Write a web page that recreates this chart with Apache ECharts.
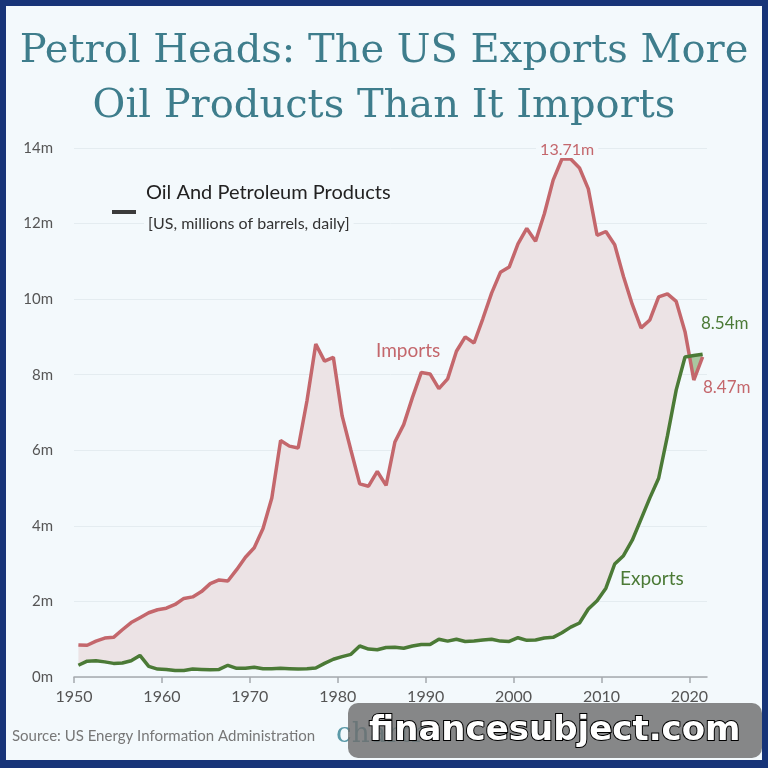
<!DOCTYPE html>
<html>
<head>
<meta charset="utf-8">
<script src="https://cdn.jsdelivr.net/npm/echarts@6/dist/echarts.min.js"></script>
<style>
html,body{margin:0;padding:0;background:#173478;}
#chart{position:absolute;left:0;top:0;width:768px;height:768px;}
</style>
</head>
<body>
<div id="chart"></div>
<script>
const years = [1950,1951,1952,1953,1954,1955,1956,1957,1958,1959,1960,1961,1962,1963,1964,1965,1966,1967,1968,1969,1970,1971,1972,1973,1974,1975,1976,1977,1978,1979,1980,1981,1982,1983,1984,1985,1986,1987,1988,1989,1990,1991,1992,1993,1994,1995,1996,1997,1998,1999,2000,2001,2002,2003,2004,2005,2006,2007,2008,2009,2010,2011,2012,2013,2014,2015,2016,2017,2018,2019,2020,2021];
const imports = [0.85,0.84,0.95,1.03,1.05,1.25,1.44,1.57,1.70,1.78,1.82,1.92,2.08,2.12,2.26,2.47,2.57,2.54,2.84,3.17,3.42,3.93,4.74,6.26,6.11,6.06,7.31,8.81,8.36,8.46,6.91,6.00,5.11,5.05,5.44,5.07,6.22,6.68,7.40,8.06,8.02,7.63,7.89,8.62,9.00,8.84,9.48,10.16,10.71,10.85,11.46,11.87,11.53,12.26,13.15,13.71,13.71,13.47,12.92,11.69,11.79,11.44,10.60,9.86,9.24,9.45,10.06,10.14,9.94,9.14,7.86,8.47];
const exports = [0.31,0.42,0.43,0.40,0.36,0.37,0.43,0.57,0.28,0.21,0.20,0.17,0.17,0.21,0.20,0.19,0.20,0.31,0.23,0.23,0.26,0.22,0.22,0.23,0.22,0.21,0.22,0.24,0.36,0.47,0.54,0.60,0.82,0.74,0.72,0.78,0.79,0.76,0.82,0.86,0.86,1.00,0.95,1.00,0.94,0.95,0.98,1.00,0.95,0.94,1.04,0.97,0.98,1.03,1.05,1.17,1.32,1.43,1.80,2.02,2.35,2.99,3.21,3.62,4.18,4.74,5.26,6.38,7.60,8.47,8.51,8.54];
const xTicks = [1950,1960,1970,1980,1990,2000,2010,2020];
const yTicks = [0,2,4,6,8,10,12,14];

const MID = 0.5; // annual values are plotted at mid-year
const impData = years.map((y,i)=>[y+MID, imports[i]]);
const expData = years.map((y,i)=>[y+MID, exports[i]]);

const RED = '#c4676c';
const GREEN = '#4b7a36';
const PINKFILL = '#ece3e5';
const GREENFILL = '#a9c7a0';
const BG = '#f3f9fc';
const LABELFONT = 'Lato, "Open Sans", sans-serif';

const chart = echarts.init(document.getElementById('chart'), null, {renderer:'canvas'});

// Fill the band between the two lines, pink where imports exceed exports, green otherwise.
function bandRender(params, api){
  const P = years.map((y,i)=>({a: api.coord([y+MID, imports[i]]), b: api.coord([y+MID, exports[i]]), d: imports[i]-exports[i]}));
  const runs = [];
  let cur = null;
  function start(pos, a, b){ cur = {pos, top:[a], bot:[b]}; runs.push(cur); }
  start(P[0].d >= 0, P[0].a, P[0].b);
  for (let i=0;i<P.length-1;i++){
    const p=P[i], q=P[i+1];
    if ((p.d>=0) === (q.d>=0)){
      cur.top.push(q.a); cur.bot.push(q.b);
    } else {
      const t = p.d/(p.d-q.d);
      const c = [p.a[0]+(q.a[0]-p.a[0])*t, p.a[1]+(q.a[1]-p.a[1])*t];
      cur.top.push(c); cur.bot.push(c);
      start(q.d >= 0, c, c);
      cur.top.push(q.a); cur.bot.push(q.b);
    }
  }
  const children = runs.map(r => ({
    type:'polygon',
    shape:{points: r.top.concat(r.bot.slice().reverse())},
    style:{fill: r.pos ? PINKFILL : GREENFILL}
  }));
  return {type:'group', children};
}

const option = {
  backgroundColor: 'transparent',
  animation: false,
  grid: {left:74, right:61, top:148, bottom:91, containLabel:false},
  xAxis: {
    type:'value', min:1950, max:2022,
    axisLine:{show:true, lineStyle:{color:'#a5a9ad', width:1.5}},
    axisTick:{show:true, customValues:xTicks, length:6, lineStyle:{color:'#a5a9ad', width:1.5}},
    axisLabel:{customValues:xTicks, color:'#555', fontSize:16, fontFamily:LABELFONT, margin:12, formatter: v => String(v)},
    splitLine:{show:false}
  },
  yAxis: {
    type:'value', min:0, max:14, interval:2,
    axisLine:{show:false}, axisTick:{show:false},
    axisLabel:{color:'#555', fontSize:15, fontFamily:LABELFONT, margin:21, formatter: v=> v+'m'},
    splitLine:{show:true, lineStyle:{color:'#e4ecf0', width:1}}
  },
  series: [
    {type:'custom', renderItem: bandRender, data:[[0]], silent:true, z:1, clip:false},
    {type:'line', data: impData, symbol:'none', lineStyle:{color:RED, width:3.5}, z:3},
    {type:'line', data: expData, symbol:'none', lineStyle:{color:GREEN, width:3.5}, z:4}
  ],
  graphic: [
    {type:'rect', left:6, top:6, shape:{width:756, height:754}, style:{fill:BG}, z:-10, silent:true},
    {type:'text', left:'center', top:24, style:{text:'Petrol Heads: The US Exports More\nOil Products Than It Imports', fill:'#3e7d8c', font:'normal 40px "DejaVu Serif"', textAlign:'center', lineHeight:55}},
    {type:'rect', left:112, top:210, shape:{width:24, height:4}, style:{fill:'#3b3b3b'}},
    {type:'text', left:146, top:183, z:10, style:{text:'Oil And Petroleum Products', fill:'#222', font:'20px ' + LABELFONT, backgroundColor:BG}},
    {type:'text', left:144, top:215, z:10, style:{text:' [US, millions of barrels, daily] ', fill:'#333', font:'16px ' + LABELFONT, backgroundColor:BG, padding:[1,0,1,0]}},
    {type:'text', left:536, top:142, z:10, style:{text:' 13.71m ', fill:RED, font:'16px ' + LABELFONT, backgroundColor:BG}},
    {type:'text', left:376, top:341, style:{text:'Imports', fill:RED, font:'19px ' + LABELFONT}},
    {type:'text', left:620, top:569, style:{text:'Exports', fill:GREEN, font:'19px ' + LABELFONT}},
    {type:'text', left:701, top:315, style:{text:'8.54m', fill:GREEN, font:'17px ' + LABELFONT}},
    {type:'text', left:703, top:379, style:{text:'8.47m', fill:RED, font:'17px ' + LABELFONT}},
    {type:'text', left:12, top:729, style:{text:'Source: US Energy Information Administration', fill:'#777', font:'15px ' + LABELFONT}},
    {type:'text', left:336, top:721, style:{text:'chartr', fill:'#5b9aa8', font:'28px "DejaVu Serif"'}},
    {type:'rect', left:348, top:703, shape:{width:414, height:55, r:10}, style:{fill:'rgba(110,110,110,0.82)'}, z:50},
    {type:'text', left:368, top:713, z:51, style:{text:'financesubject.com', fill:'#fff', font:'bold 34px "DejaVu Sans"', stroke:'#000', lineWidth:2, shadowColor:'#000', shadowOffsetX:2, shadowOffsetY:2, shadowBlur:0}}
  ]
};
chart.setOption(option);
</script>
</body>
</html>
